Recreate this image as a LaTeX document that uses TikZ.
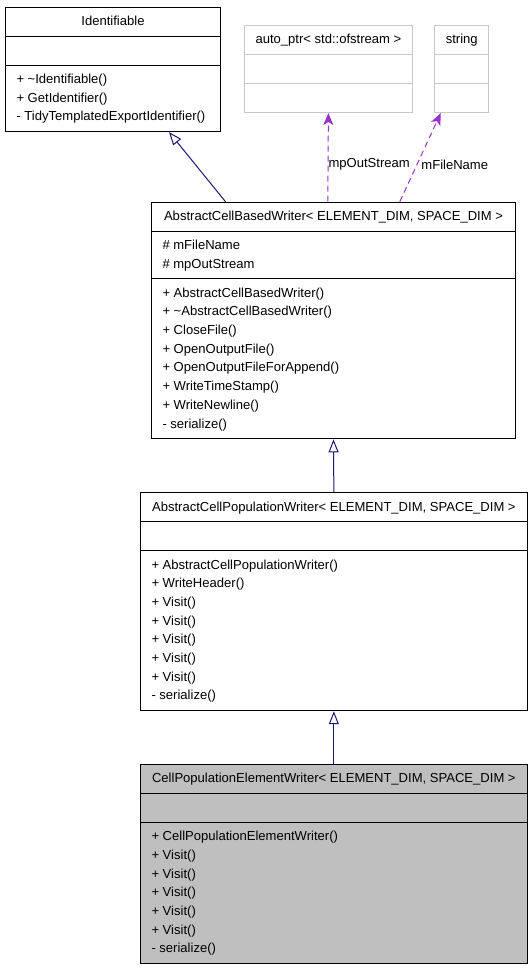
\documentclass[tikz,border=0pt]{standalone}
\usepackage{fontspec}
\setmainfont{Liberation Sans}
\usetikzlibrary{arrows.meta, shapes.multipart}

\definecolor{edgeblue}{HTML}{191970}
\definecolor{edgepurple}{HTML}{9A32CD}
\definecolor{boxgray}{HTML}{BFBFBF}
\definecolor{linegray}{HTML}{C8C8C8}

\begin{document}
\begin{tikzpicture}[
        x=1pt,
        y=-1pt,
        font=\fontsize{13.05}{18.7}\selectfont,
        umlclass/.style={
            rectangle split,
            rectangle split parts=3,
            rectangle split part align={center,left,left},
            draw,
            line width=1pt,
            anchor=north west,
            inner xsep=11pt,
            inner ysep=4.65pt,
            align=left
        },
        extclass/.style={
            umlclass,
            draw=linegray
        },
        inherit/.style={
            draw=edgeblue,
            line width=1pt,
            -{Triangle[open, length=13pt, width=10pt]}
        },
        uses/.style={
            draw=edgepurple,
            line width=1pt,
            dash pattern=on 6pt off 4pt,
            -{Stealth[length=12pt, width=10pt, inset=3pt]}
        },
        edgelabel/.style={
            anchor=west,
            inner sep=0pt,
            text=black
        }
    ]
    \useasboundingbox (0,0) rectangle (532,971);

    % Nodes
    \node[umlclass, minimum width=215pt] (ident) at (5,6.7) {\strut Identifiable
        \nodepart{second}\strut
        \nodepart{third}\strut + \textasciitilde Identifiable()\\\strut + GetIdentifier()\\\strut - TidyTemplatedExportIdentifier()\strut};
    \node[extclass, minimum width=167pt] (autoptr) at (244,25) {\strut auto\_ptr< std::ofstream >
        \nodepart{second}\strut
        \nodepart{third}\strut};
    \node[extclass, minimum width=53.4pt] (string) at (434.3,25) {\strut string
        \nodepart{second}\strut
        \nodepart{third}\strut};
    \node[umlclass, minimum width=364pt] (cellwriter) at (151,201.7) {\strut AbstractCellBasedWriter< ELEMENT\_DIM, SPACE\_DIM >
        \nodepart{second}\strut \# mFileName\\\strut \# mpOutStream\strut
        \nodepart{third}\strut + AbstractCellBasedWriter()\\\strut + \textasciitilde AbstractCellBasedWriter()\\\strut + CloseFile()\\\strut + OpenOutputFile()\\\strut + OpenOutputFileForAppend()\\\strut + WriteTimeStamp()\\\strut + WriteNewline()\\\strut - serialize()\strut};
    \node[umlclass, minimum width=386.7pt] (popwriter) at (140,492.3) {\strut AbstractCellPopulationWriter< ELEMENT\_DIM, SPACE\_DIM >
        \nodepart{second}\strut
        \nodepart{third}\strut + AbstractCellPopulationWriter()\\\strut + WriteHeader()\\\strut + Visit()\\\strut + Visit()\\\strut + Visit()\\\strut + Visit()\\\strut + Visit()\\\strut - serialize()\strut};
    \node[umlclass, minimum width=386.7pt, fill=boxgray] (elemwriter) at (140,764) {\strut CellPopulationElementWriter< ELEMENT\_DIM, SPACE\_DIM >
        \nodepart{second}\strut
        \nodepart{third}\strut + CellPopulationElementWriter()\\\strut + Visit()\\\strut + Visit()\\\strut + Visit()\\\strut + Visit()\\\strut + Visit()\\\strut - serialize()\strut};

    % Arrows
    \draw[inherit] ([xshift=-108pt]cellwriter.north) -- ([xshift=56pt]ident.south);
    \draw[uses] ([xshift=-5.7pt]cellwriter.north) -- (autoptr.south)
        node[edgelabel, pos=0.417] (outlabel) {mpOutStream};
    \draw[uses] ([xshift=66.3pt]cellwriter.north) -- ([xshift=-21pt]string.south)
        node[edgelabel, pos=0.418, xshift=4pt] (namelabel) {mFileName};
    \draw[inherit] (popwriter.north) -- (cellwriter.south);
    \draw[inherit] (elemwriter.north) -- (popwriter.south);

\end{tikzpicture}
\end{document}
